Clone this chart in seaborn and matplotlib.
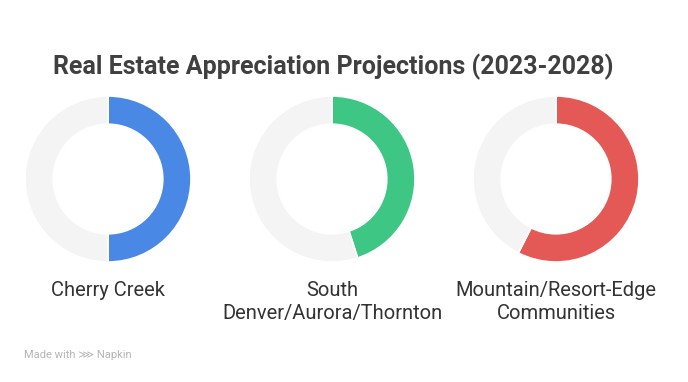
import matplotlib.pyplot as plt
import seaborn as sns

areas = ["Cherry Creek", "South\nDenver/Aurora/Thornton", "Mountain/Resort-Edge\nCommunities"]
shares = [50, 45, 57.5]
colors = ["#4A88E5", "#3EC684", "#E45955"]
rest_color = "#F4F4F4"

sns.set_theme(style="white")
plt.rcParams['font.family'] = ['Roboto', 'DejaVu Sans']

fig = plt.figure(figsize=(6.88, 3.82), dpi=100)
fig.patch.set_facecolor("white")

lefts = [25 / 688, 249 / 688, 473 / 688]
centers = [108, 332, 556]
for i in range(3):
    ax = fig.add_axes([lefts[i], 120 / 382, 166 / 688, 166 / 382])
    ax.pie([shares[i], 100 - shares[i]], colors=[colors[i], rest_color],
           startangle=90, counterclock=False, radius=1,
           wedgeprops=dict(width=0.34, edgecolor="white", linewidth=1.2))
    ax.set_xlim(-1, 1)
    ax.set_ylim(-1, 1)
    ax.set_aspect("equal")
    ax.axis("off")
    fig.text(centers[i] / 688, 1 - 281 / 382, areas[i], ha="center", va="top",
             fontsize=14.5, color="#333333", linespacing=1.25)

fig.text(333 / 688, 1 - 67 / 382, "Real Estate Appreciation Projections (2023-2028)",
         ha="center", va="center", fontsize=18, fontweight="bold", color="#404040")

fig.text(24 / 688, 1 - 355 / 382, "Made with \u22d9 Napkin", ha="left", va="center",
         fontsize=8, color="#B5B5B5")

fig.savefig("out.png", dpi=100)
